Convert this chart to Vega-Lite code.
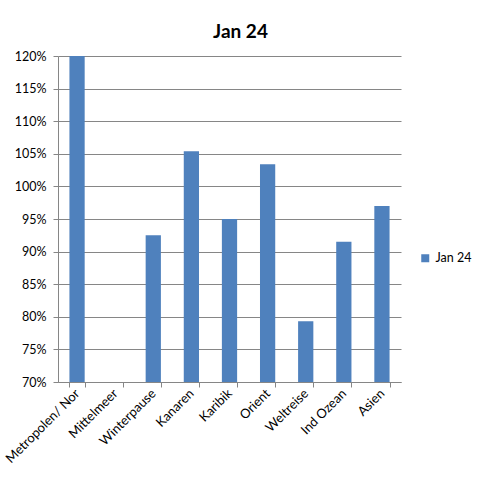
{
  "$schema": "https://vega.github.io/schema/vega-lite/v6.json",
  "autosize": "none",
  "width": 343,
  "height": 326,
  "padding": {"left": 58, "top": 56, "right": 81, "bottom": 96},
  "background": "white",
  "title": {
    "text": "Jan 24",
    "font": "Lato",
    "fontSize": 19,
    "fontWeight": "bold",
    "color": "black",
    "anchor": "middle",
    "dx": 11,
    "baseline": "bottom",
    "offset": -11
  },
  "data": {
    "values": [
      {"region": "Metropolen/ Nor", "value": 1.2, "serie": "Jan 24"},
      {"region": "Mittelmeer", "value": null, "serie": "Jan 24"},
      {"region": "Winterpause", "value": 0.925, "serie": "Jan 24"},
      {"region": "Kanaren", "value": 1.054, "serie": "Jan 24"},
      {"region": "Karibik", "value": 0.95, "serie": "Jan 24"},
      {"region": "Orient", "value": 1.034, "serie": "Jan 24"},
      {"region": "Weltreise", "value": 0.793, "serie": "Jan 24"},
      {"region": "Ind Ozean", "value": 0.915, "serie": "Jan 24"},
      {"region": "Asien", "value": 0.97, "serie": "Jan 24"}
    ]
  },
  "mark": {"type": "bar", "clip": true},
  "encoding": {
    "x": {
      "field": "region",
      "type": "nominal",
      "sort": null,
      "scale": {
        "domain": ["Metropolen/ Nor", "Mittelmeer", "Winterpause", "Kanaren", "Karibik", "Orient", "Weltreise", "Ind Ozean", "Asien"],
        "paddingInner": 0.6,
        "paddingOuter": 0.3
      },
      "axis": {
        "title": null,
        "labelAngle": -45,
        "labelAlign": "right",
        "labelBaseline": "middle",
        "labelFont": "Lato",
        "labelFontSize": 13,
        "labelColor": "black",
        "labelPadding": 4,
        "tickBand": "extent",
        "tickSize": 5,
        "tickColor": "#868686",
        "domainColor": "#868686",
        "domainWidth": 1
      }
    },
    "y": {
      "field": "value",
      "type": "quantitative",
      "scale": {"domain": [0.7, 1.2], "zero": false, "nice": false},
      "axis": {
        "title": null,
        "values": [0.7, 0.75, 0.8, 0.85, 0.9, 0.95, 1.0, 1.05, 1.1, 1.15, 1.2],
        "format": ".0%",
        "labelFont": "Lato",
        "labelFontSize": 12.5,
        "labelColor": "black",
        "labelPadding": 7,
        "ticks": true,
        "tickSize": 5,
        "tickColor": "#868686",
        "grid": true,
        "gridColor": "#868686",
        "gridWidth": 1,
        "domainColor": "#868686",
        "domainWidth": 1
      }
    },
    "color": {
      "field": "serie",
      "type": "nominal",
      "scale": {"range": ["#4F81BD"]},
      "legend": {
        "title": null,
        "orient": "none",
        "legendX": 361,
        "legendY": 196,
        "symbolType": "square",
        "symbolSize": 64,
        "labelFont": "Lato",
        "labelFontSize": 12.5,
        "labelColor": "black"
      }
    }
  },
  "config": {"view": {"stroke": null}}
}
